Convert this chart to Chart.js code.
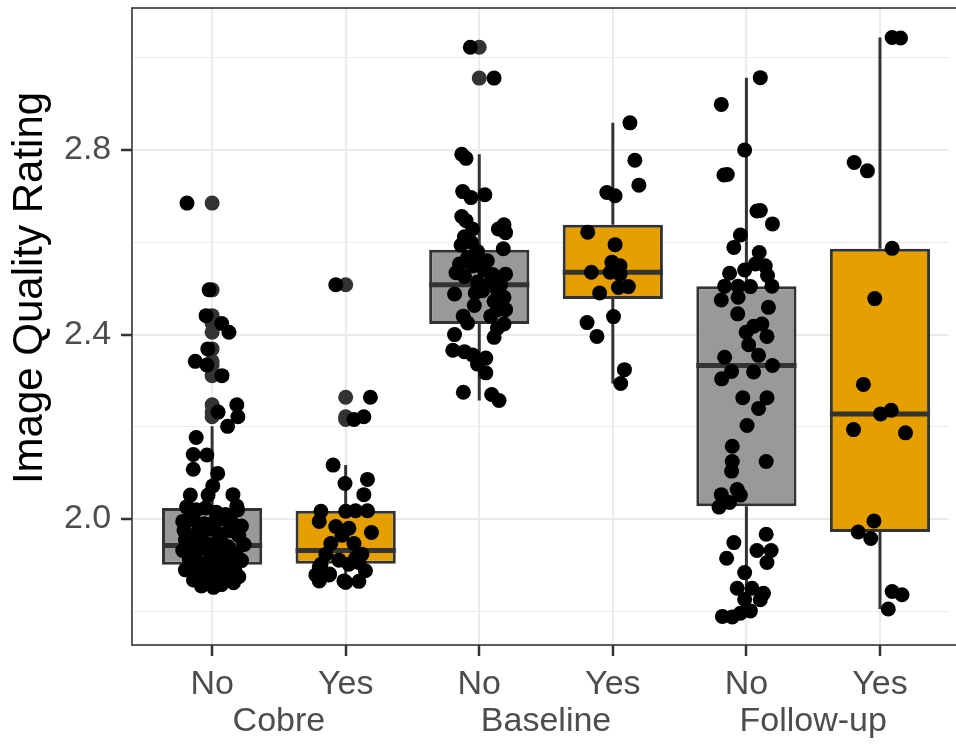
<!DOCTYPE html>
<html>
<head>
<meta charset="utf-8">
<script src="https://cdn.jsdelivr.net/npm/chart.js@4/dist/chart.umd.min.js"></script>
<style>
  html, body { margin: 0; padding: 0; background: #ffffff; }
  #wrap { width: 956px; height: 745px; }
</style>
</head>
<body>
<div id="wrap"><canvas id="c" width="956" height="745"></canvas></div>
<script>
// ---------------- DATA ----------------
const yAxisTitle = 'Image Quality Rating';
const groupLabels = ['Cobre', 'Baseline', 'Follow-up'];
const categoryLabels = ['No', 'Yes', 'No', 'Yes', 'No', 'Yes'];

const q1Values          = [1.901, 1.903, 2.423, 2.477, 2.028, 1.972];
const medianValues      = [1.943, 1.932, 2.508, 2.535, 2.333, 2.228];
const q3Values          = [2.024, 2.018, 2.584, 2.638, 2.505, 2.586];
const whiskerLowValues  = [1.852, 1.865, 2.257, 2.294, 1.788, 1.805];
const whiskerHighValues = [2.201, 2.117, 2.791, 2.859, 2.957, 3.044];

const yTickValues = [1.8, 2.0, 2.2, 2.4, 2.6, 2.8, 3.0];
const yTickLabels = ['', '2.0', '', '2.4', '', '2.8', ''];
const yMajorTicks = [2.0, 2.4, 2.8];

// jittered observations: [horizontal jitter (category units), rating]
const cobreNoPoints = [
  [-0.188, 2.685], [-0.022, 2.497], [-0.045, 2.441], [0.072, 2.424], [0.126, 2.405],
  [-0.032, 2.369], [-0.126, 2.342], [-0.039, 2.334], [0.074, 2.311], [0.045, 2.232],
  [0.185, 2.248], [0.193, 2.222], [0.116, 2.201], [-0.119, 2.177], [-0.141, 2.140],
  [-0.039, 2.139], [-0.141, 2.108], [0.042, 2.099], [0.005, 2.072], [-0.163, 2.052],
  [-0.030, 2.052], [0.156, 2.053], [0.185, 2.028], [-0.188, 2.027],
  [-0.19, 2.026], [-0.16, 2.013], [-0.12, 2.020], [-0.05, 2.024], [0.03, 2.015], [0.10, 2.010], [0.19, 2.020],
  [-0.22, 1.995], [-0.14, 1.998], [-0.06, 1.990], [0.02, 1.995], [0.08, 2.000], [0.15, 1.992], [0.22, 1.985],
  [-0.21, 1.975], [-0.11, 1.970], [-0.02, 1.978], [0.05, 1.968], [0.13, 1.975], [0.20, 1.964],
  [-0.20, 1.955], [-0.15, 1.948], [-0.07, 1.952], [0.00, 1.945], [0.07, 1.950], [0.12, 1.940], [0.24, 1.945],
  [-0.22, 1.932], [-0.12, 1.928], [-0.04, 1.935], [0.04, 1.925], [0.10, 1.930], [0.18, 1.925],
  [-0.17, 1.912], [-0.09, 1.905], [-0.01, 1.915], [0.06, 1.908], [0.14, 1.903], [0.22, 1.910],
  [-0.20, 1.890], [-0.13, 1.885], [-0.05, 1.893], [0.02, 1.888], [0.09, 1.882], [0.17, 1.890],
  [-0.14, 1.868], [-0.06, 1.872], [0.03, 1.865], [0.12, 1.867], [0.20, 1.875],
  [-0.08, 1.855], [0.01, 1.852], [0.07, 1.858], [0.16, 1.862]
];
const cobreYesPoints = [
  [-0.074, 2.508], [0.185, 2.264], [0.136, 2.222], [0.062, 2.216], [-0.094, 2.117],
  [-0.005, 2.077], [0.163, 2.086], [0.136, 2.053], [-0.185, 2.017], [-0.198, 1.995],
  [0.000, 2.017], [0.074, 2.018], [0.163, 2.018], [0.193, 1.971], [-0.074, 1.984],
  [0.024, 1.980], [-0.111, 1.947], [0.062, 1.947], [-0.027, 1.965], [-0.148, 1.924],
  [0.121, 1.924], [-0.050, 1.911], [-0.185, 1.902], [0.148, 1.888], [-0.223, 1.879],
  [-0.124, 1.879], [-0.198, 1.866], [-0.013, 1.866], [0.099, 1.865], [0.024, 1.902],
  [0.074, 1.915], [-0.198, 1.896], [-0.120, 1.881], [0.000, 1.863], [0.099, 1.906]
];
const baselineNoPoints = [
  [-0.067, 3.023], [0.111, 2.956], [-0.131, 2.791], [-0.099, 2.782], [-0.124, 2.710],
  [-0.062, 2.697], [0.042, 2.703], [-0.131, 2.656], [-0.099, 2.647], [0.185, 2.638],
  [0.143, 2.629], [0.197, 2.621], [-0.050, 2.629], [-0.111, 2.612], [-0.136, 2.594],
  [0.180, 2.586], [-0.013, 2.580], [-0.087, 2.567], [0.000, 2.562], [-0.148, 2.553],
  [-0.050, 2.549], [0.037, 2.540], [-0.174, 2.534], [-0.111, 2.526], [0.197, 2.531],
  [-0.013, 2.514], [0.086, 2.514], [0.160, 2.508], [0.024, 2.495], [0.136, 2.495],
  [-0.185, 2.488], [0.185, 2.481], [0.111, 2.472], [-0.037, 2.463], [0.136, 2.454],
  [0.197, 2.454], [0.086, 2.440], [-0.087, 2.425], [0.185, 2.423], [0.136, 2.414],
  [-0.185, 2.400], [0.111, 2.394], [-0.198, 2.366], [-0.111, 2.363], [-0.050, 2.356],
  [0.049, 2.349], [-0.013, 2.336], [0.049, 2.317], [-0.119, 2.275], [0.093, 2.270],
  [0.148, 2.257], [-0.060, 2.600], [0.060, 2.560], [0.100, 2.530], [-0.030, 2.490],
  [0.150, 2.470], [-0.120, 2.440]
];
const baselineYesPoints = [
  [0.128, 2.859], [0.165, 2.778], [0.195, 2.724], [-0.045, 2.708], [0.017, 2.701],
  [-0.188, 2.622], [0.017, 2.595], [-0.007, 2.557], [0.054, 2.549], [-0.161, 2.535],
  [-0.020, 2.535], [0.054, 2.531], [0.116, 2.504], [0.042, 2.502], [-0.099, 2.490],
  [0.005, 2.439], [-0.193, 2.426], [-0.119, 2.396], [0.087, 2.324], [0.059, 2.294]
];
const followUpNoPoints = [
  [0.104, 2.957], [-0.188, 2.899], [-0.013, 2.800], [-0.168, 2.746], [-0.143, 2.747],
  [0.079, 2.668], [0.104, 2.669], [0.195, 2.640], [-0.045, 2.616], [-0.094, 2.589],
  [0.096, 2.578], [-0.013, 2.540], [0.067, 2.553], [0.141, 2.549], [-0.126, 2.533],
  [0.158, 2.528], [-0.163, 2.505], [-0.062, 2.505], [0.030, 2.504], [0.191, 2.505],
  [-0.062, 2.481], [-0.188, 2.475], [0.165, 2.459], [-0.065, 2.445], [0.116, 2.423],
  [0.054, 2.418], [-0.002, 2.405], [0.154, 2.396], [0.017, 2.378], [0.091, 2.355],
  [-0.163, 2.351], [-0.111, 2.320], [0.054, 2.319], [0.195, 2.333], [-0.185, 2.304],
  [-0.027, 2.263], [0.154, 2.263], [0.091, 2.240], [0.005, 2.203], [-0.106, 2.158],
  [-0.106, 2.125], [0.148, 2.125], [-0.111, 2.104], [-0.069, 2.064], [-0.188, 2.053],
  [-0.045, 2.052], [-0.126, 2.036], [-0.205, 2.026], [0.148, 1.967], [-0.094, 1.949],
  [0.079, 1.932], [0.185, 1.932], [-0.148, 1.915], [0.154, 1.906], [-0.013, 1.884],
  [-0.069, 1.850], [0.042, 1.850], [0.128, 1.839], [-0.013, 1.826], [0.104, 1.825],
  [-0.180, 1.789], [-0.106, 1.788], [-0.045, 1.796], [0.030, 1.801]
];
const followUpYesPoints = [
  [0.091, 3.044], [0.154, 3.043], [-0.193, 2.773], [-0.094, 2.755], [0.091, 2.587],
  [-0.039, 2.478], [-0.124, 2.292], [0.005, 2.228], [0.084, 2.236], [-0.198, 2.194],
  [0.191, 2.187], [-0.045, 1.996], [-0.163, 1.972], [-0.069, 1.958], [0.091, 1.843],
  [0.165, 1.836], [0.062, 1.805]
];
const pointsByCategory = [cobreNoPoints, cobreYesPoints, baselineNoPoints,
                          baselineYesPoints, followUpNoPoints, followUpYesPoints];

// ---------------- STYLE ----------------
const FONT = '"Liberation Sans", Arial, Helvetica, sans-serif';
const boxColors = ['#999999', '#E69F00', '#999999', '#E69F00', '#999999', '#E69F00'];
const lineDark = '#333333';
const gridColor = '#EBEBEB';
const textGrey = '#4D4D4D';
const boxHalfWidth = 0.375;   // box width 0.75 category units
const xMin = 0.4, xMax = 6.513;
const yMin = 1.727, yMax = 3.108;

Chart.defaults.font.family = FONT;
Chart.defaults.animation = false;

const catPos = categoryLabels.map((_, i) => i + 1);
const groupPos = groupLabels.map((_, g) => 2 * g + 1.5);
const xTickPos = catPos.concat(groupPos).sort((a, b) => a - b);
const isCat = v => Math.abs(v - Math.round(v)) < 1e-9;
const isMajor = v => yMajorTicks.some(m => Math.abs(m - v) < 1e-9);

// ---------------- DATASETS ----------------
const jitterData = [];
pointsByCategory.forEach((pts, i) => pts.forEach(p => jitterData.push({ x: catPos[i] + p[0], y: p[1] })));

const outlierData = [];
pointsByCategory.forEach((pts, i) => pts.forEach(p => {
  if (p[1] > whiskerHighValues[i] || p[1] < whiskerLowValues[i]) outlierData.push({ x: catPos[i], y: p[1] });
}));

const datasets = [];
datasets.push({
  type: 'scatter', label: 'points', data: jitterData, xAxisID: 'x', yAxisID: 'y',
  pointRadius: 7.5, pointHoverRadius: 7.5, backgroundColor: '#000000', borderWidth: 0
});
datasets.push({
  type: 'scatter', label: 'outliers', data: outlierData, xAxisID: 'x', yAxisID: 'y',
  pointRadius: 7.5, pointHoverRadius: 7.5, backgroundColor: lineDark, borderWidth: 0
});
catPos.forEach((c, i) => {
  datasets.push({
    type: 'scatter', label: 'median' + i, showLine: true, xAxisID: 'x', yAxisID: 'y',
    data: [{ x: c - boxHalfWidth, y: medianValues[i] }, { x: c + boxHalfWidth, y: medianValues[i] }],
    borderColor: lineDark, borderWidth: 5, pointRadius: 0, borderCapStyle: 'butt'
  });
});
// tick spacing on x is 0.5 category units (category + group label ticks),
// so barPercentage = 0.75 / 0.5 gives a box 0.75 category units wide
datasets.push({
  type: 'bar', label: 'boxes', xAxisID: 'x', yAxisID: 'y',
  data: catPos.map((c, i) => ({ x: c, y: [q1Values[i], q3Values[i]] })),
  backgroundColor: boxColors, borderColor: lineDark, borderWidth: 3, borderSkipped: false,
  categoryPercentage: 1.0, barPercentage: (2 * boxHalfWidth) / 0.5
});
catPos.forEach((c, i) => {
  datasets.push({
    type: 'scatter', label: 'whiskerHigh' + i, showLine: true, xAxisID: 'x', yAxisID: 'y',
    data: [{ x: c, y: q3Values[i] }, { x: c, y: whiskerHighValues[i] }],
    borderColor: lineDark, borderWidth: 3, pointRadius: 0
  });
  datasets.push({
    type: 'scatter', label: 'whiskerLow' + i, showLine: true, xAxisID: 'x', yAxisID: 'y',
    data: [{ x: c, y: q1Values[i] }, { x: c, y: whiskerLowValues[i] }],
    borderColor: lineDark, borderWidth: 3, pointRadius: 0
  });
});

// ---------------- PLUGIN: panel border + y title ----------------
const panelPlugin = {
  id: 'panel',
  afterDraw(chart) {
    const { ctx, chartArea: a } = chart;
    ctx.save();
    ctx.strokeStyle = lineDark;
    ctx.lineWidth = 1.6;
    ctx.strokeRect(a.left, a.top, a.right - a.left + 10, a.bottom - a.top);
    ctx.translate(30, 288);
    ctx.rotate(-Math.PI / 2);
    ctx.fillStyle = '#000000';
    ctx.font = '42px ' + FONT;
    ctx.textAlign = 'center';
    ctx.textBaseline = 'middle';
    ctx.fillText(yAxisTitle, 0, 0);
    ctx.restore();
  }
};

new Chart(document.getElementById('c'), {
  type: 'scatter',
  data: { datasets },
  plugins: [panelPlugin],
  options: {
    responsive: false,
    animation: false,
    layout: { padding: { left: 64, right: 0, top: 8, bottom: -6 } },
    plugins: { legend: { display: false }, tooltip: { enabled: false } },
    scales: {
      x: {
        type: 'linear', position: 'bottom', min: xMin, max: xMax,
        offset: false,
        afterBuildTicks: axis => { axis.ticks = xTickPos.map(v => ({ value: v })); },
        border: { display: false },
        grid: {
          offset: false, lineWidth: 2, tickWidth: 2.5, tickLength: 11, drawTicks: true,
          color: c => (c.tick && isCat(c.tick.value)) ? gridColor : 'rgba(0,0,0,0)',
          tickColor: c => (c.tick && isCat(c.tick.value)) ? lineDark : 'rgba(0,0,0,0)'
        },
        ticks: {
          autoSkip: false, maxRotation: 0, minRotation: 0, padding: 10.5, color: textGrey,
          font: { size: 34, lineHeight: 1.088 },
          callback: v => isCat(v) ? categoryLabels[Math.round(v) - 1]
                                  : ['', groupLabels[Math.round((v - 1.5) / 2)]]
        }
      },
      y: {
        type: 'linear', position: 'left', min: yMin, max: yMax,
        afterBuildTicks: axis => { axis.ticks = yTickValues.map(v => ({ value: v })); },
        border: { display: false },
        grid: {
          color: gridColor,
          lineWidth: c => (c.tick && isMajor(c.tick.value)) ? 2 : 1,
          tickColor: c => (c.tick && isMajor(c.tick.value)) ? lineDark : 'rgba(0,0,0,0)',
          tickWidth: 2.5, tickLength: 11
        },
        ticks: {
          autoSkip: false, padding: 4.85, crossAlign: 'far', color: textGrey,
          font: { size: 34, lineHeight: 0.1 },
          callback: v => { const k = yTickValues.findIndex(t => Math.abs(t - v) < 1e-9); return k >= 0 ? yTickLabels[k] : ''; }
        }
      }
    }
  }
});
</script>
</body>
</html>
